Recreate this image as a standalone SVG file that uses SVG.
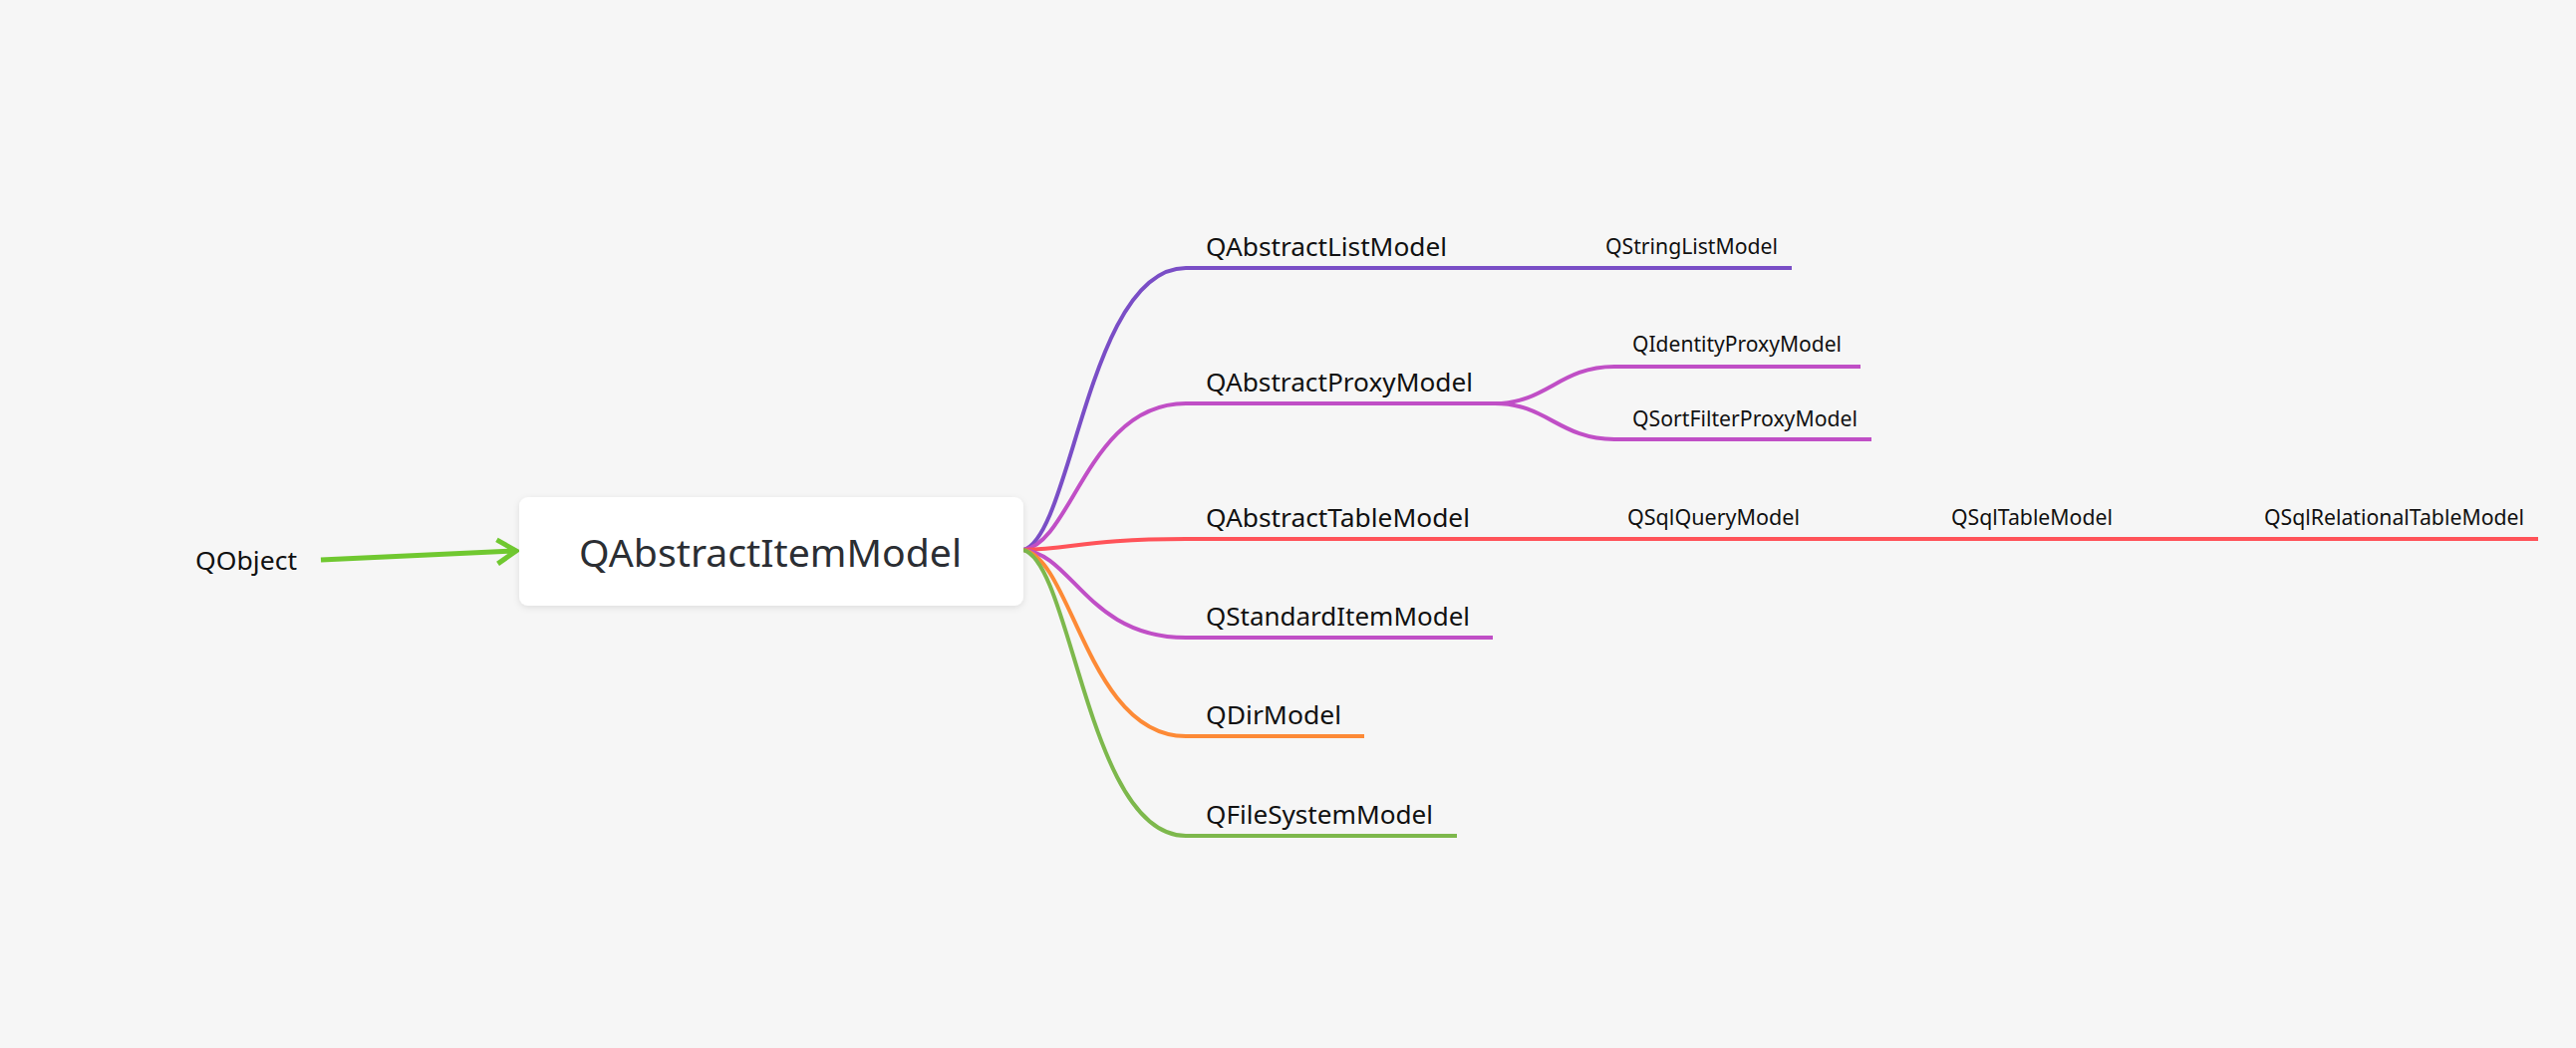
<svg xmlns="http://www.w3.org/2000/svg" width="2585" height="1052" viewBox="0 0 2585 1052">
<style>
.bg{fill:#f6f6f6}
.lbl{font-family:"Noto Sans","Liberation Sans",sans-serif;fill:#111111}
.l1{font-size:26px}
.l2{font-size:21px}
.root{font-family:"Noto Sans","Liberation Sans",sans-serif;font-size:39px;fill:#2b2e33}
.c{fill:none;stroke-width:4;stroke-linecap:butt;stroke-linejoin:round}
.purple{stroke:#7a4ec6}
.mag{stroke:#c04fc6}
.red{stroke:#ff5359}
.orange{stroke:#fd8a36}
.green{stroke:#7db84c}
.arrow{fill:none;stroke:#70c830;stroke-width:5;stroke-linecap:butt;stroke-linejoin:miter}
</style>
<defs>
<filter id="sh" x="-10%" y="-20%" width="120%" height="150%">
<feDropShadow dx="0" dy="2" stdDeviation="3" flood-color="#000000" flood-opacity="0.10"/>
</filter>
<marker id="chev" markerUnits="userSpaceOnUse" markerWidth="40" markerHeight="40" viewBox="-25 -20 30 40" refX="0" refY="0" orient="auto">
<path d="M -19 -12 L 0 0 L -19 12" fill="none" stroke="#70c830" stroke-width="5" stroke-linejoin="miter"/>
</marker>
</defs>
<rect class="bg" x="0" y="0" width="2585" height="1052"/>

<g id="connectors">
<path class="arrow" d="M 322 562 L 518 553" marker-end="url(#chev)"/>
<path class="c purple" d="M 1027 552 C 1076 538 1092 269 1190 269 L 1475 269"/>
<path class="c purple" d="M 1475 269 L 1798 269"/>
<path class="c mag" d="M 1027 552 C 1076 545 1092 405 1190 405 L 1500 405"/>
<path class="c mag" d="M 1500 405 C 1552 405 1565 368 1620 368 L 1867 368"/>
<path class="c mag" d="M 1500 405 C 1552 405 1565 441 1620 441 L 1878 441"/>
<path class="c red" d="M 1027 552 C 1076 551 1092 541 1190 541 L 1497 541"/>
<path class="c red" d="M 1497 541 L 1821 541"/>
<path class="c red" d="M 1821 541 L 2135 541"/>
<path class="c red" d="M 2135 541 L 2547 541"/>
<path class="c mag" d="M 1027 552 C 1076 556 1092 640 1190 640 L 1498 640"/>
<path class="c orange" d="M 1027 552 C 1076 561 1092 739 1190 739 L 1369 739"/>
<path class="c green" d="M 1027 552 C 1076 566 1092 839 1190 839 L 1462 839"/>
</g>

<g id="node-qobject">
<text class="lbl l1" x="196" y="572" textLength="102" lengthAdjust="spacingAndGlyphs">QObject</text>
</g>
<g id="node-qabstractitemmodel">
<rect x="521" y="499" width="506" height="109" rx="9" ry="9" fill="#ffffff" filter="url(#sh)"/>
<text class="root" x="581" y="569" textLength="384" lengthAdjust="spacingAndGlyphs">QAbstractItemModel</text>
</g>
<g id="node-qabstractlistmodel">
<text class="lbl l1" x="1210" y="257" textLength="242" lengthAdjust="spacingAndGlyphs">QAbstractListModel</text>
</g>
<g id="node-qstringlistmodel">
<text class="lbl l2" x="1611" y="255" textLength="173" lengthAdjust="spacingAndGlyphs">QStringListModel</text>
</g>
<g id="node-qabstractproxymodel">
<text class="lbl l1" x="1210" y="393" textLength="268" lengthAdjust="spacingAndGlyphs">QAbstractProxyModel</text>
</g>
<g id="node-qidentityproxymodel">
<text class="lbl l2" x="1638" y="353" textLength="210" lengthAdjust="spacingAndGlyphs">QIdentityProxyModel</text>
</g>
<g id="node-qsortfilterproxymodel">
<text class="lbl l2" x="1638" y="428" textLength="226" lengthAdjust="spacingAndGlyphs">QSortFilterProxyModel</text>
</g>
<g id="node-qabstracttablemodel">
<text class="lbl l1" x="1210" y="529" textLength="265" lengthAdjust="spacingAndGlyphs">QAbstractTableModel</text>
</g>
<g id="node-qsqlquerymodel">
<text class="lbl l2" x="1633" y="527" textLength="173" lengthAdjust="spacingAndGlyphs">QSqlQueryModel</text>
</g>
<g id="node-qsqltablemodel">
<text class="lbl l2" x="1958" y="527" textLength="162" lengthAdjust="spacingAndGlyphs">QSqlTableModel</text>
</g>
<g id="node-qsqlrelationaltablemodel">
<text class="lbl l2" x="2272" y="527" textLength="261" lengthAdjust="spacingAndGlyphs">QSqlRelationalTableModel</text>
</g>
<g id="node-qstandarditemmodel">
<text class="lbl l1" x="1210" y="628" textLength="265" lengthAdjust="spacingAndGlyphs">QStandardItemModel</text>
</g>
<g id="node-qdirmodel">
<text class="lbl l1" x="1210" y="727" textLength="136" lengthAdjust="spacingAndGlyphs">QDirModel</text>
</g>
<g id="node-qfilesystemmodel">
<text class="lbl l1" x="1210" y="827" textLength="228" lengthAdjust="spacingAndGlyphs">QFileSystemModel</text>
</g>
</svg>
